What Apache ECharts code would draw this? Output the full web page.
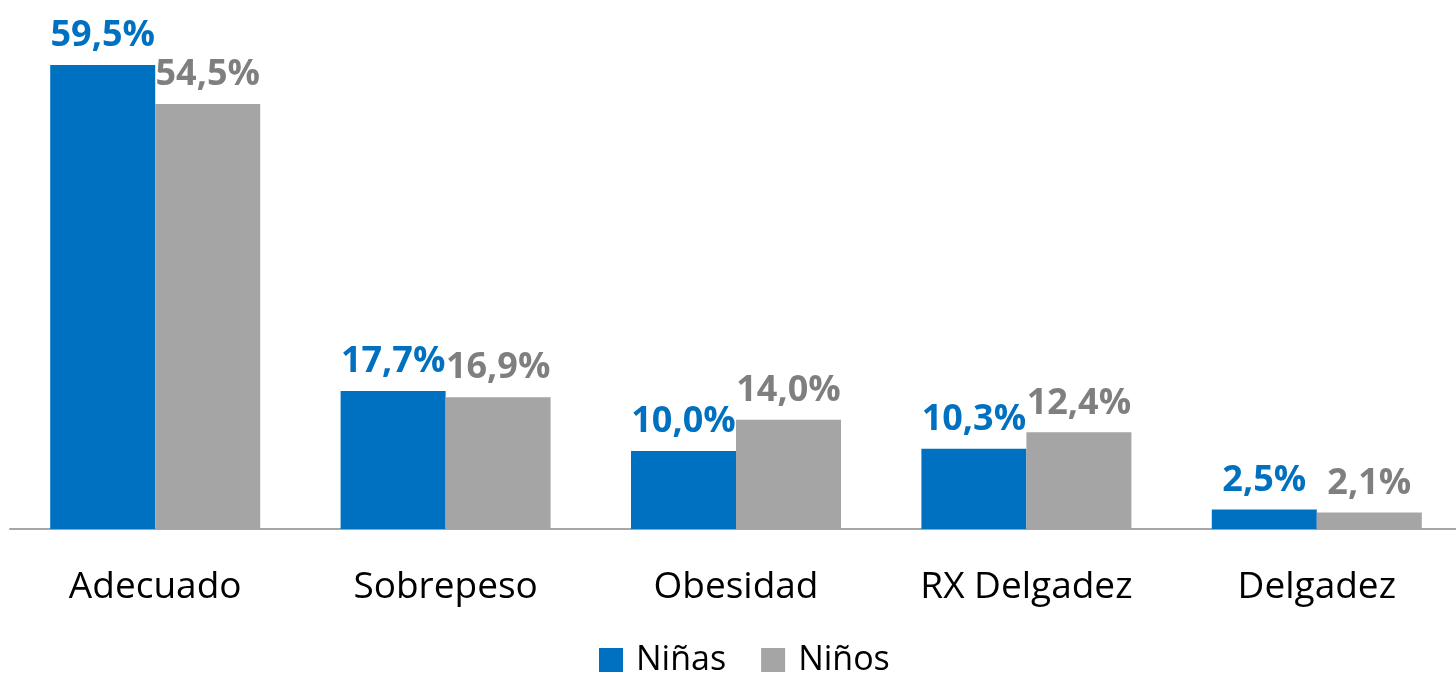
<!DOCTYPE html>
<html>
<head>
<meta charset="utf-8">
<script src="https://cdn.jsdelivr.net/npm/echarts@6/dist/echarts.min.js"></script>
<style>
    html, body { margin: 0; padding: 0; background: #fff; overflow: hidden; }
    #chart { width: 1462px; height: 674px; }
</style>
</head>
<body>
<div id="chart"></div>
<script>
// categorias y valores (%)
const categories = ['Adecuado', 'Sobrepeso', 'Obesidad', 'RX Delgadez', 'Delgadez'];
const ninas = [59.5, 17.7, 10.0, 10.3, 2.5];
const ninos = [54.5, 16.9, 14.0, 12.4, 2.1];

const FONT = 'Open Sans';

const fmt = p => p.value.toFixed(1).replace('.', ',') + '%';

const chart = echarts.init(document.getElementById('chart'));

chart.setOption({
    animation: false,
    textStyle: { fontFamily: FONT },
    grid: {
        left: 10,
        right: 0,
        top: 61,
        bottom: 145,
        outerBoundsMode: 'none'
    },
    legend: {
        data: ['Niñas', 'Niños'],
        top: 638,
        left: 594,
        itemWidth: 24,
        itemHeight: 24,
        itemGap: 35,
        icon: 'rect',
        textStyle: {
            fontFamily: FONT,
            fontSize: 34,
            color: '#000',
            padding: [0, 0, 0, 8]
        }
    },
    xAxis: {
        type: 'category',
        data: categories,
        axisTick: { show: false },
        axisLine: { lineStyle: { color: '#A6A6A6', width: 2 } },
        axisLabel: {
            fontFamily: FONT,
            fontSize: 37,
            color: '#000',
            margin: 40
        }
    },
    yAxis: {
        type: 'value',
        min: 0,
        max: 60,
        show: false
    },
    series: [
        {
            name: 'Niñas',
            type: 'bar',
            data: ninas,
            barWidth: 105,
            barGap: 0,
            itemStyle: { color: '#0070C0' },
            label: {
                show: true,
                position: 'top',
                distance: 11,
                formatter: fmt,
                fontFamily: FONT,
                fontWeight: 'bold',
                fontSize: 36,
                color: '#0070C0'
            }
        },
        {
            name: 'Niños',
            type: 'bar',
            data: ninos,
            barWidth: 105,
            barGap: 0,
            itemStyle: { color: '#A5A5A5' },
            label: {
                show: true,
                position: 'top',
                distance: 11,
                formatter: fmt,
                fontFamily: FONT,
                fontWeight: 'bold',
                fontSize: 36,
                color: '#7F7F7F'
            }
        }
    ]
});
</script>
</body>
</html>
